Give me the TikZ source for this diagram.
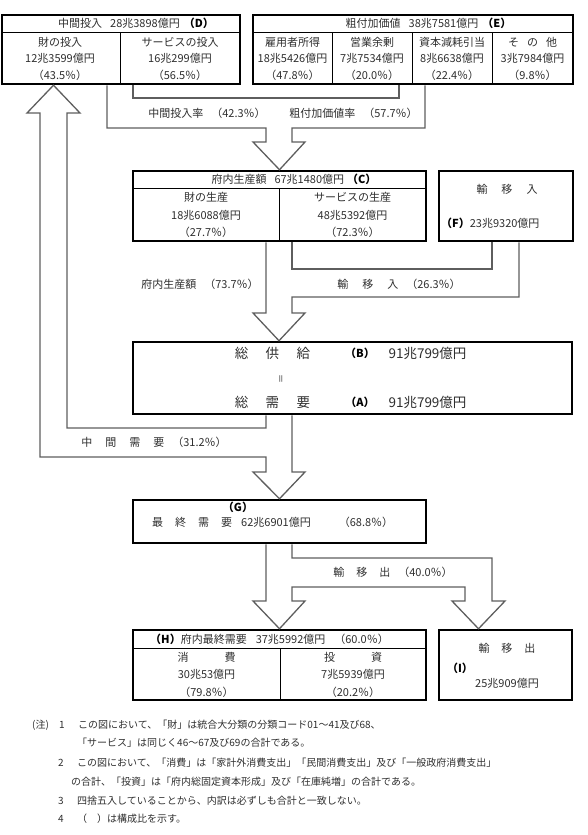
\documentclass[tikz,border=0pt]{standalone}
\usepackage{fontspec}
\setmainfont{Noto Sans CJK JP}
\definecolor{tc}{HTML}{2E2E2E}
\definecolor{ac}{HTML}{5E5E5E}
\begin{document}
\begin{tikzpicture}[x=1pt,y=-1pt,
  box/.style={draw=black, line width=2.5pt, inner sep=0pt},
  div/.style={draw=black, line width=0.9pt},
  arr/.style={draw=ac, line width=1.3pt, line join=miter},
  t/.style={text=tc, inner sep=0pt, font=\fontsize{11}{13}\selectfont},
  tb/.style={text=black, inner sep=0pt, font=\fontsize{11}{13}\selectfont\bfseries},
  big/.style={text=tc, inner sep=0pt, font=\fontsize{13.5}{15}\selectfont},
  nt/.style={text=tc, inner sep=0pt, anchor=west, font=\fontsize{10}{12}\selectfont}]
\useasboundingbox (0,0) rectangle (587,835);

% boxes
\node[box, minimum width=238pt, minimum height=69pt] (D) at (121,49.5) {};
\node[box, minimum width=320pt, minimum height=69pt] (E) at (413,49.5) {};
\node[box, minimum width=293pt, minimum height=70pt] (C) at (279.5,206) {};
\node[box, minimum width=134pt, minimum height=70pt] (F) at (506,206) {};
\node[box, minimum width=439pt, minimum height=72pt] (B) at (352.5,378) {};
\node[box, minimum width=293pt, minimum height=43pt] (G) at (279.5,521.5) {};
\node[box, minimum width=293pt, minimum height=70pt] (H) at (279.5,665) {};
\node[box, minimum width=133pt, minimum height=70pt] (I) at (505.5,665) {};

% dividers
\draw[div] (2,32) -- (240,32) (120,32) -- (120,84);
\draw[div] (253,32) -- (573,32) (332,32) -- (332,84) (412,32) -- (412,84) (492,32) -- (492,84);
\draw[div] (133,188) -- (426,188) (279,188) -- (279,241);
\draw[div] (133,648) -- (426,648) (280,648) -- (280,700);

% arrows
\draw[arr] (D.south -| 107,0) -- (107,128) -- (266,128) -- (266,142) -- (253,142) -- (C.north) -- (305,142) -- (292,142) -- (292,128) -- (425,128) -- (E.south -| 425,0);
\draw[arr] (D.south -| 133,0) -- (133,98) -- (399,98) -- (E.south -| 399,0);

\draw[arr] (C.south -| 266,0) -- (266,313) -- (253,313) -- (B.north -| 279,0) -- (305,313) -- (292,313) -- (292,297) -- (519,297) -- (F.south -| 519,0);
\draw[arr] (C.south -| 292,0) -- (292,269) -- (492,269) -- (F.south -| 492,0);

\draw[arr] (B.south -| 266,0) -- (266,428) -- (67,428) -- (67,113) -- (80,113) -- (D.south -| 53.5,0) -- (27,113) -- (40,113) -- (40,457) -- (266,457) -- (266,472) -- (253,472) -- (G.north) -- (305,472) -- (292,472) -- (B.south -| 292,0);

\draw[arr] (G.south -| 266,0) -- (266,601) -- (253,601) -- (H.north) -- (305,601) -- (292,601) -- (292,587) -- (465,587) -- (465,601) -- (452,601) -- (I.north -| 478.5,0) -- (505,601) -- (492,601) -- (492,558) -- (292,558) -- (G.south -| 292,0);

% D texts
\node[t] (Dh) at (136,23.5) {中間投入\hspace{8pt}28兆3898億円\hspace{4pt}\textbf{\color{black}（D）}};
\node[t] (D1a) at (60,42) {財の投入};
\node[t] (D1b) at (60,58.5) {12兆3599億円};
\node[t] (D1c) at (60,75) {（43.5％）};
\node[t] (D2a) at (180,42) {サービスの投入};
\node[t] (D2b) at (180,58.5) {16兆299億円};
\node[t] (D2c) at (180,75) {（56.5％）};

% E texts
\node[t] (Eh) at (428.5,23.5) {粗付加価値\hspace{8pt}38兆7581億円\hspace{4pt}\textbf{\color{black}（E）}};
\node[t] (E1a) at (292.5,42) {雇用者所得};
\node[t] (E1b) at (292.5,58.5) {18兆5426億円};
\node[t] (E1c) at (292.5,75) {（47.8％）};
\node[t] (E2a) at (372,42) {営業余剰};
\node[t] (E2b) at (372,58.5) {7兆7534億円};
\node[t] (E2c) at (372,75) {（20.0％）};
\node[t] (E3a) at (452,42) {資本減耗引当};
\node[t] (E3b) at (452,58.5) {8兆6638億円};
\node[t] (E3c) at (452,75) {（22.4％）};
\node[t] (E4a) at (532.5,42) {そ\hspace{8pt}の\hspace{8pt}他};
\node[t] (E4b) at (532.5,58.5) {3兆7984億円};
\node[t] (E4c) at (532.5,75) {（9.8％）};

% labels 1
\node[t] (L1) at (207,113) {中間投入率\hspace{8pt}（42.3％）};
\node[t] (L2) at (353.5,113) {粗付加価値率\hspace{8pt}（57.7％）};

% C texts
\node[t] (Ch) at (294,179.5) {府内生産額\hspace{8pt}67兆1480億円\hspace{3pt}\textbf{\color{black}（C）}};
\node[t] (C1a) at (206,197) {財の生産};
\node[t] (C1b) at (206,215) {18兆6088億円};
\node[t] (C1c) at (206,232) {（27.7％）};
\node[t] (C2a) at (352.5,197) {サービスの生産};
\node[t] (C2b) at (352.5,215) {48兆5392億円};
\node[t] (C2c) at (352.5,232) {（72.3％）};

% F texts
\node[t] (Fa) at (507,189) {輸\hspace{14pt}移\hspace{14pt}入};
\node[t, anchor=west] (Fb) at (441,223) {\textbf{\color{black}（F）}23兆9320億円};

% labels 2
\node[t] (L3) at (200,284) {府内生産額\hspace{8pt}（73.7％）};
\node[t] (L4) at (399,284) {輸\hspace{14pt}移\hspace{14pt}入\hspace{8pt}（26.3％）};

% B texts
\node[big] (B1) at (272.5,353) {総\hspace{17.5pt}供\hspace{17.5pt}給};
\node[tb] (Bb) at (360,353) {（B）};
\node[big] (Bv) at (427.5,353) {91兆799億円};
\node[text=tc, inner sep=0pt, rotate=90, font=\fontsize{9}{10}\selectfont] (Beq) at (282,379) {＝};
\node[big] (B2) at (272.5,402) {総\hspace{17.5pt}需\hspace{17.5pt}要};
\node[tb] (Ba) at (360,402) {（A）};
\node[big] (Av) at (427.5,402) {91兆799億円};

% label 3
\node[t] (L5) at (154,442) {中\hspace{13pt}間\hspace{13pt}需\hspace{13pt}要\hspace{8pt}（31.2％）};

% G texts
\node[tb] (Gl) at (238,507) {（G）};
\node[t, anchor=west] (Gt) at (152,522) {最\hspace{12pt}終\hspace{12pt}需\hspace{12pt}要\hspace{9pt}62兆6901億円};
\node[t] (Gp) at (366,522) {（68.8％）};

% label 4
\node[t] (L6) at (393,572) {輸\hspace{12pt}移\hspace{12pt}出\hspace{8pt}（40.0％）};

% H texts
\node[t] (Hh) at (269.5,639) {\textbf{\color{black}（H）}府内最終需要\hspace{9pt}37兆5992億円\hspace{9pt}（60.0％）};
\node[t] (H1a) at (206.5,657) {消\hspace{36pt}費};
\node[t] (H1b) at (206.5,674) {30兆53億円};
\node[t] (H1c) at (206.5,692) {（79.8％）};
\node[t] (H2a) at (353,657) {投\hspace{36pt}資};
\node[t] (H2b) at (353,674) {7兆5939億円};
\node[t] (H2c) at (353,692) {（20.2％）};

% I texts
\node[t] (Ia) at (507,648) {輸\hspace{12pt}移\hspace{12pt}出};
\node[tb] (Il) at (460,668) {（I）};
\node[t] (Iv) at (507,683) {25兆909億円};

% notes
\node[nt] (N0) at (32,725) {(注)};
\node[nt] (N1n) at (59,725) {1};
\node[nt] (N1) at (78,725) {この図において、「財」は統合大分類の分類コード01～41及び68、};
\node[nt] (N1b) at (77,743) {「サービス」は同じく46～67及び69の合計である。};
\node[nt] (N2n) at (58,763) {2};
\node[nt] (N2) at (77,763) {この図において、「消費」は「家計外消費支出」「民間消費支出」及び「一般政府消費支出」};
\node[nt] (N2b) at (71,782) {の合計、「投資」は「府内総固定資本形成」及び「在庫純増」の合計である。};
\node[nt] (N3n) at (58,801) {3};
\node[nt] (N3) at (77,801) {四捨五入していることから、内訳は必ずしも合計と一致しない。};
\node[nt] (N4n) at (58,819) {4};
\node[nt] (N4) at (77,819) {（\hspace{10pt}）は構成比を示す。};
\end{tikzpicture}
\end{document}
